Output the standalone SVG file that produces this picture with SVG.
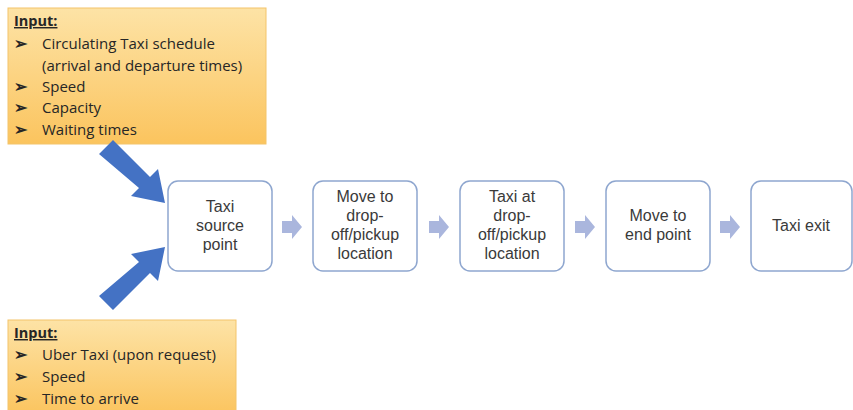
<svg xmlns="http://www.w3.org/2000/svg" width="853" height="410" viewBox="0 0 853 410">
<defs>
<linearGradient id="og" x1="0" y1="0" x2="0" y2="1">
<stop offset="0" stop-color="#fde3a6"/>
<stop offset="1" stop-color="#fbc45e"/>
</linearGradient>
<style>
.inbox{fill:url(#og);stroke:#f3c46a;stroke-width:1}
.it{font-family:"Open Sans","Liberation Sans",sans-serif;font-size:15px;fill:#262626}
.hd{font-weight:bold;text-decoration:underline;font-size:14.5px}
.bl{font-size:16px;font-weight:bold}
.node{fill:#fff;stroke:#8ea6cf;stroke-width:1.5}
.nt{font-family:"Liberation Sans",Arial,sans-serif;font-size:16px;fill:#3a3a3a;text-anchor:middle}
.sa{fill:#aab6dd}
.ba{fill:#4472c4}
</style>
</defs>
<rect width="853" height="410" fill="#fff"/>
<g id="input-top">
<rect class="inbox" x="8" y="8" width="258" height="136"/>
<text class="it hd" x="14" y="26">Input:</text>
<text class="it bl" x="14" y="49">➢</text><text class="it" x="42" y="49">Circulating Taxi schedule</text>
<text class="it" x="42" y="71">(arrival and departure times)</text>
<text class="it bl" x="14" y="92">➢</text><text class="it" x="42" y="92">Speed</text>
<text class="it bl" x="14" y="113">➢</text><text class="it" x="42" y="113">Capacity</text>
<text class="it bl" x="14" y="135">➢</text><text class="it" x="42" y="135">Waiting times</text>
</g>
<g id="input-bottom">
<rect class="inbox" x="8" y="320" width="228" height="95"/>
<text class="it hd" x="14" y="338">Input:</text>
<text class="it bl" x="14" y="360">➢</text><text class="it" x="42" y="360">Uber Taxi (upon request)</text>
<text class="it bl" x="14" y="382">➢</text><text class="it" x="42" y="382">Speed</text>
<text class="it bl" x="14" y="404">➢</text><text class="it" x="42" y="404">Time to arrive</text>
</g>
<g id="connectors">
<polygon class="ba" points="99,154 113,140 150,177 158,169 165,203 131,196 139,188"/>
<polygon class="ba" points="99,296 113,310 150,273 158,281 165,247 131,254 139,262"/>
<polygon class="sa" points="282,221 292,221 292,215 302,227 292,239 292,233 282,233"/>
<polygon class="sa" points="429,221 439,221 439,215 449,227 439,239 439,233 429,233"/>
<polygon class="sa" points="575,221 585,221 585,215 595,227 585,239 585,233 575,233"/>
<polygon class="sa" points="720,221 730,221 730,215 740,227 730,239 730,233 720,233"/>
</g>
<g id="n1">
<rect class="node" x="168" y="181" width="104" height="90" rx="10"/>
<text class="nt" x="220" y="212">Taxi</text>
<text class="nt" x="220" y="231">source</text>
<text class="nt" x="220" y="250">point</text>
</g>
<g id="n2">
<rect class="node" x="313" y="181" width="104" height="90" rx="10"/>
<text class="nt" x="365" y="202">Move to</text>
<text class="nt" x="365" y="221">drop-</text>
<text class="nt" x="365" y="240">off/pickup</text>
<text class="nt" x="365" y="259">location</text>
</g>
<g id="n3">
<rect class="node" x="460" y="181" width="104" height="90" rx="10"/>
<text class="nt" x="512" y="202">Taxi at</text>
<text class="nt" x="512" y="221">drop-</text>
<text class="nt" x="512" y="240">off/pickup</text>
<text class="nt" x="512" y="259">location</text>
</g>
<g id="n4">
<rect class="node" x="606" y="181" width="104" height="90" rx="10"/>
<text class="nt" x="658" y="221">Move to</text>
<text class="nt" x="658" y="240">end point</text>
</g>
<g id="n5">
<rect class="node" x="751" y="181" width="101" height="90" rx="10"/>
<text class="nt" x="801" y="231">Taxi exit</text>
</g>
</svg>
